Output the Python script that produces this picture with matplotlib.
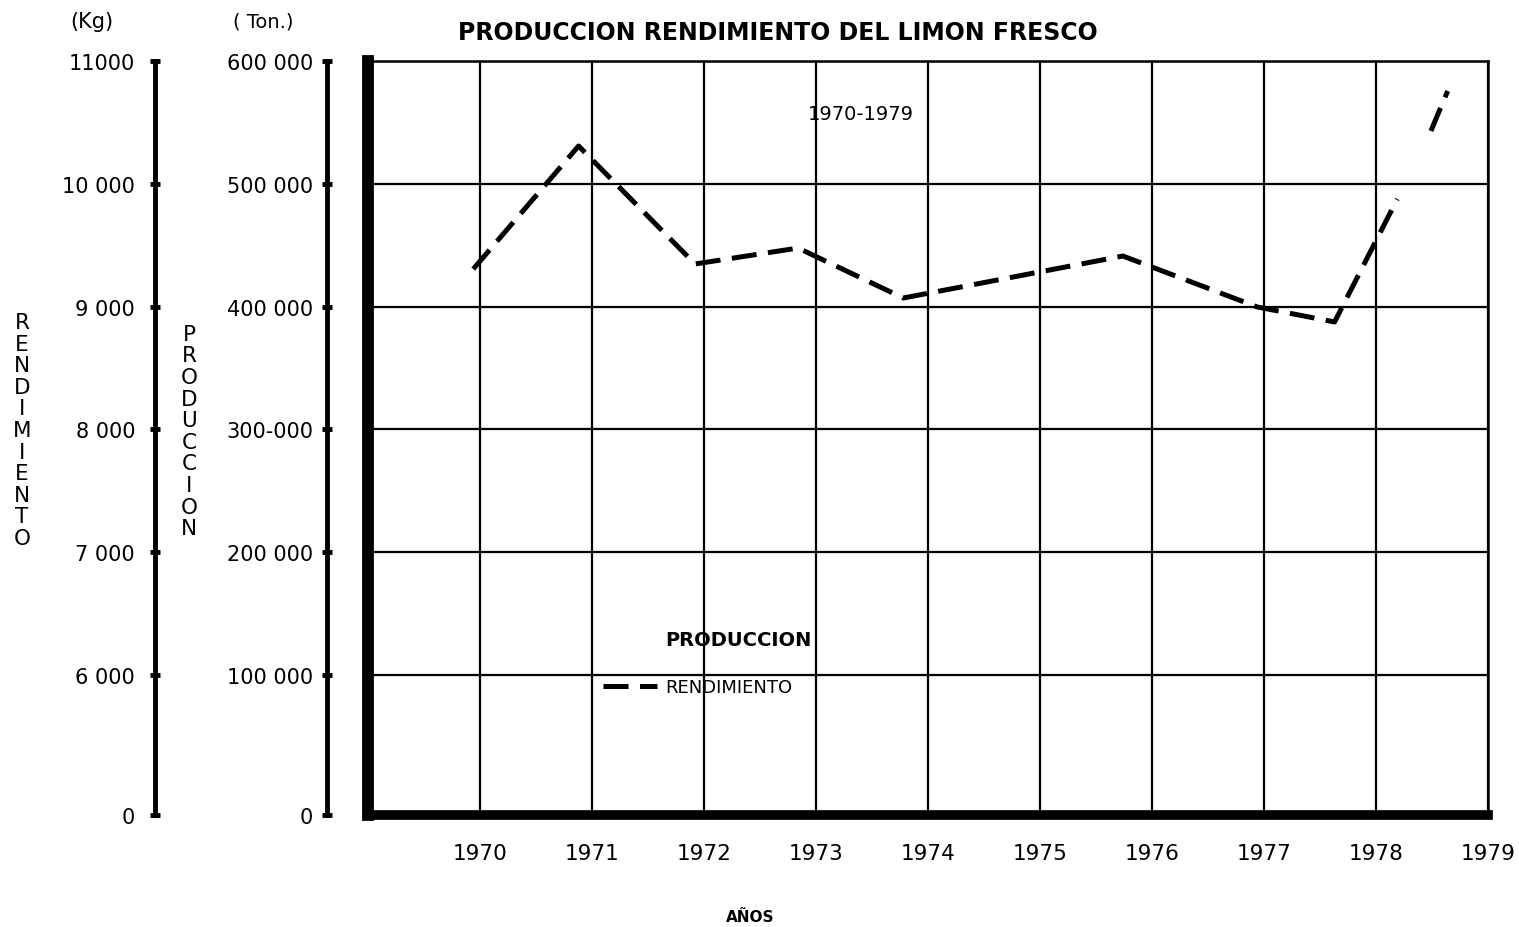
import numpy as np
import matplotlib
matplotlib.use("Agg")
import matplotlib.pyplot as plt

# datos (rendimiento en kg, por ano)
anios = [1969.94, 1970.88, 1971.92, 1972.84, 1973.78, 1975.74, 1976.94, 1977.63, 1978.19,
         np.nan, 1978.49, 1978.64]
rendimiento = [9306, 10308, 9347, 9477, 9070, 9412, 8997, 8875, 9876,
               np.nan, 10430, 10756]

years = [1970, 1971, 1972, 1973, 1974, 1975, 1976, 1977, 1978, 1979]
kg_ticks = [4860, 6000, 7000, 8000, 9000, 10000, 11000]
kg_labels = ["0", "6 000", "7 000", "8 000", "9 000", "10 000", "11000"]
ton_ticks = [-14000, 100000, 200000, 300000, 400000, 500000, 600000]
ton_labels = ["0", "100 000", "200 000", "300-000", "400 000", "500 000", "600 000"]

W, H = 1519, 928
plt.rcParams['font.family'] = ['DejaVu Sans']

fig = plt.figure(figsize=(W / 100, H / 100), dpi=100)
ax = fig.add_axes([368 / W, 1 - 816 / H, (1488 - 368) / W, (816 - 62) / H])

ax.plot(anios, rendimiento, color='black', lw=3.6, dashes=(5, 2.3),
        solid_capstyle='butt', label='RENDIMIENTO')

ax.set_xlim(1969, 1979)
ax.set_ylim(4860, 11000)
ax.set_xticks(years)
ax.set_xticklabels([str(y) for y in years], fontsize=15.5)
ax.set_yticks(kg_ticks[1:])
ax.set_yticklabels([])
ax.tick_params(axis='both', length=0)
ax.tick_params(axis='x', pad=20)
ax.grid(True, color='black', lw=1.6)
ax.spines['left'].set_linewidth(8.5)
ax.spines['bottom'].set_linewidth(7)
ax.spines['top'].set_linewidth(1.8)
ax.spines['right'].set_linewidth(1.8)

# eje de rendimiento (Kg)
ax_kg = ax.twinx()
ax_kg.set_ylim(4860, 11000)
ax_kg.yaxis.set_ticks_position('left')
ax_kg.spines['left'].set_position(('axes', -0.19))
ax_kg.spines['left'].set_linewidth(3.5)
for s in ['right', 'top', 'bottom']:
    ax_kg.spines[s].set_visible(False)
ax_kg.set_yticks(kg_ticks)
ax_kg.set_yticklabels(kg_labels, fontsize=15)
ax_kg.tick_params(axis='y', direction='inout', length=7, width=3.5, pad=11)

# eje de produccion (Ton.)
ax_t = ax.twinx()
ax_t.set_ylim(-14000, 600000)
ax_t.yaxis.set_ticks_position('left')
ax_t.spines['left'].set_position(('axes', -0.037))
ax_t.spines['left'].set_linewidth(3.5)
for s in ['right', 'top', 'bottom']:
    ax_t.spines[s].set_visible(False)
ax_t.set_yticks(ton_ticks)
ax_t.set_yticklabels(ton_labels, fontsize=15)
ax_t.tick_params(axis='y', direction='inout', length=7, width=3.5, pad=6)

fig.text(778 / W, 1 - 33 / H, "PRODUCCION RENDIMIENTO DEL LIMON FRESCO",
         ha='center', va='center', fontsize=17, fontweight='bold')
fig.text(92 / W, 1 - 22 / H, "(Kg)", ha='center', va='center', fontsize=15)
fig.text(263 / W, 1 - 22 / H, "( Ton.)", ha='center', va='center', fontsize=14)
fig.text(861 / W, 1 - 114 / H, "1970-1979", ha='center', va='center', fontsize=14)
fig.text(738 / W, 1 - 640 / H, "PRODUCCION", ha='center', va='center',
         fontsize=14, fontweight='bold')
fig.text(750 / W, 1 - 918 / H, "AÑOS", ha='center', va='center',
         fontsize=11, fontweight='bold')
fig.text(22 / W, 1 - 431 / H, "\n".join("RENDIMIENTO"), ha='center', va='center',
         fontsize=15.5, linespacing=1.1)
fig.text(189 / W, 1 - 432 / H, "\n".join("PRODUCCION"), ha='center', va='center',
         fontsize=15.5, linespacing=1.1)

ax.legend(loc='center left', bbox_to_anchor=(603 / W, 1 - 688 / H),
          bbox_transform=fig.transFigure, frameon=False, fontsize=13,
          handlelength=3.0, handletextpad=0.45, borderpad=0, borderaxespad=0)

fig.savefig("out.png", dpi=100)
